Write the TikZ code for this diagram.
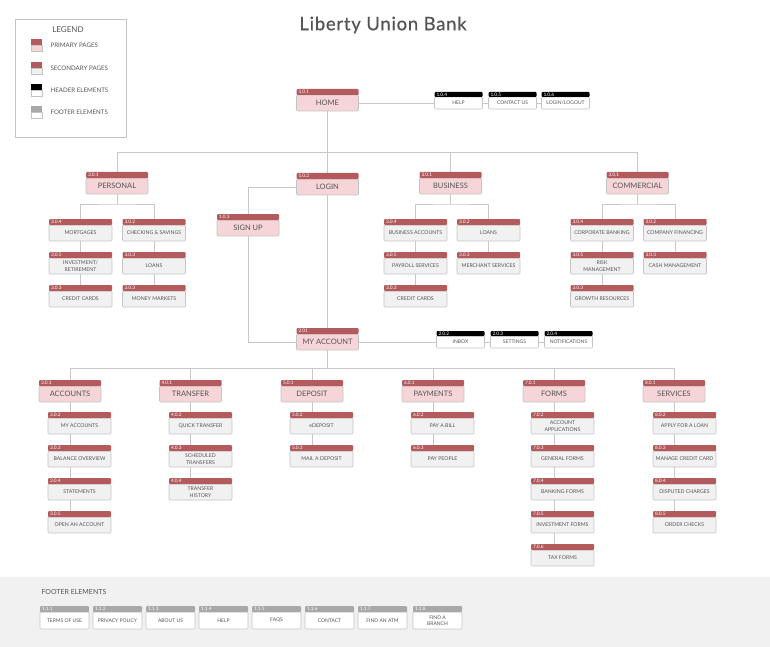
\documentclass[tikz,border=0pt]{standalone}
\usepackage{fontspec}
\setmainfont{Lato}
\newfontfamily\titlefont[LetterSpace=4,FakeBold=0.6]{Lato}
\usepackage{xcolor}
\usepackage{tikz}
\usetikzlibrary{positioning,backgrounds}

\definecolor{tagred}{HTML}{B35A5D}
\definecolor{primfill}{HTML}{F5D5D7}
\definecolor{secfill}{HTML}{F1F1F1}
\definecolor{footgray}{HTML}{A8A8A8}
\definecolor{boxline}{HTML}{C4C4C4}
\definecolor{wirecol}{HTML}{C8C8C8}
\definecolor{txt}{HTML}{555555}
\definecolor{footbg}{HTML}{F1F1F1}

\begin{document}
\begin{tikzpicture}[x=1pt, y=-1pt,
tagbar/.style={anchor=south, text=white, inner xsep=2pt, inner ysep=0pt, outer sep=0pt, align=left, rounded corners=1pt, font=\fontsize{4.8}{4.8}\selectfont},
prim/.style={draw=boxline, line width=0.6pt, fill=primfill, rounded corners=1pt, outer sep=0pt, minimum width=62pt, minimum height=16pt, inner sep=1pt, text=txt, font=\fontsize{7.5}{8}\selectfont, label={[tagbar, fill=tagred, text width=58pt, minimum height=6pt]north:#1}},
sec/.style={draw=boxline, line width=0.6pt, fill=secfill, rounded corners=1pt, outer sep=0pt, minimum width=63pt, minimum height=16pt, inner sep=1pt, align=center, text=txt, font=\fontsize{5.2}{6.5}\selectfont, label={[tagbar, fill=tagred, text width=59pt, minimum height=6pt]north:#1}},
head/.style={draw=boxline, line width=0.6pt, fill=white, rounded corners=1pt, outer sep=0pt, minimum width=48pt, minimum height=12pt, inner sep=1pt, text=txt, font=\fontsize{5}{6}\selectfont, label={[tagbar, fill=black, text width=44pt, minimum height=5pt]north:#1}},
foot/.style={draw=boxline, line width=0.6pt, fill=white, rounded corners=1pt, outer sep=0pt, minimum width=49pt, minimum height=17pt, inner sep=1pt, align=center, text=txt, font=\fontsize{5}{6}\selectfont, label={[tagbar, fill=footgray, text width=45pt, minimum height=6pt]north:#1}},
swatch/.style={draw=boxline, line width=0.5pt, minimum width=11pt, minimum height=6pt, inner sep=0pt, outer sep=0pt},
swtop/.style={anchor=south, minimum width=11pt, minimum height=6pt, inner sep=0pt, outer sep=0pt},
legtext/.style={text=txt, font=\fontsize{6.2}{7}\selectfont},
wire/.style={draw=wirecol, line width=0.8pt},
node distance=17pt
]
\useasboundingbox (0,0) rectangle (770,647);

% Title
\node[text=txt, font=\titlefont\fontsize{18.5}{20}\selectfont] (title) at (383,25) {Liberty Union Bank};

% Legend
\node[draw=boxline, line width=0.8pt, minimum width=111pt, minimum height=118pt] (legend) at (70.5,78) {};
\node[text=txt, font=\fontsize{8}{9}\selectfont] (legtitle) at (68,30) {LEGEND};
\node[swatch, fill=primfill, label={[swtop, fill=tagred]north:}] (swprim) at (36.5,48) {};
\node[swatch, fill=secfill, label={[swtop, fill=tagred]north:}] (swsec) at (36.5,71) {};
\node[swatch, fill=white, label={[swtop, fill=black]north:}] (swhead) at (36.5,93) {};
\node[swatch, fill=white, label={[swtop, fill=footgray]north:}] (swfoot) at (36.5,115) {};
\node[legtext, right=5pt of swprim.north east] (lprim) {PRIMARY PAGES};
\node[legtext, right=5pt of swsec.north east] (lsec) {SECONDARY PAGES};
\node[legtext, right=5pt of swhead.north east] (lhead) {HEADER ELEMENTS};
\node[legtext, right=5pt of swfoot.north east] (lfoot) {FOOTER ELEMENTS};

% Home and header elements
\node[prim=1.0.1] (home) at (327.5,103) {HOME};
\node[head=1.0.4, right=76pt of home] (help) {HELP};
\node[head=1.0.5, right=6pt of help] (contact) {CONTACT US};
\node[head=1.0.6, right=5pt of contact] (logout) {LOGIN/LOGOUT};

% First level
\node[prim=3.0.1] (personal) at (117,186) {PERSONAL};
\node[prim=1.0.2] (login) at (327.5,187) {LOGIN};
\node[prim=3.0.1] (business) at (450.5,186) {BUSINESS};
\node[prim=3.0.1] (commercial) at (637.5,186) {COMMERCIAL};
\node[prim=1.0.3] (signup) at (248,228) {SIGN UP};

% Personal pages
\node[sec=3.0.4] (mortgages) at (80.5,233) {MORTGAGES};
\node[sec=3.0.5, below=of mortgages] (invest) {INVESTMENT/\\RETIREMENT};
\node[sec=3.0.3, below=of invest] (pcredit) {CREDIT CARDS};
\node[sec=3.0.2] (checking) at (154,233) {CHECKING \& SAVINGS};
\node[sec=3.0.3, below=of checking] (ploans) {LOANS};
\node[sec=3.0.3, below=of ploans] (money) {MONEY MARKETS};

% Business pages
\node[sec=3.0.4] (busacc) at (415.5,233) {BUSINESS ACCOUNTS};
\node[sec=3.0.5, below=of busacc] (payroll) {PAYROLL SERVICES};
\node[sec=3.0.3, below=of payroll] (bcredit) {CREDIT CARDS};
\node[sec=3.0.2] (bloans) at (488.5,233) {LOANS};
\node[sec=3.0.3, below=of bloans] (merchant) {MERCHANT SERVICES};

% Commercial pages
\node[sec=3.0.4] (corporate) at (602,233) {CORPORATE BANKING};
\node[sec=3.0.5, below=of corporate] (risk) {RISK\\MANAGEMENT};
\node[sec=3.0.3, below=of risk] (growth) {GROWTH RESOURCES};
\node[sec=3.0.2] (financing) at (675,233) {COMPANY FINANCING};
\node[sec=3.0.3, below=of financing] (cash) {CASH MANAGEMENT};

% My account and header elements
\node[prim=2.01] (myaccount) at (327.5,342) {MY ACCOUNT};
\node[head=2.0.2, right=78pt of myaccount] (inbox) {INBOX};
\node[head=2.0.3, right=6pt of inbox] (settings) {SETTINGS};
\node[head=2.0.4, right=6pt of settings] (notifications) {NOTIFICATIONS};

% Account sections
\node[prim=3.0.1] (accounts) at (70,394) {ACCOUNTS};
\node[prim=4.0.1] (transfer) at (190.5,394) {TRANSFER};
\node[prim=5.0.1] (deposit) at (312,394) {DEPOSIT};
\node[prim=6.0.1] (payments) at (433,394) {PAYMENTS};
\node[prim=7.0.1] (forms) at (554,394) {FORMS};
\node[prim=8.0.1] (services) at (674,394) {SERVICES};

\node[sec=3.0.2] (myaccts) at (79.5,426) {MY ACCOUNTS};
\node[sec=3.0.3, below=of myaccts] (balance) {BALANCE OVERVIEW};
\node[sec=3.0.4, below=of balance] (statements) {STATEMENTS};
\node[sec=3.0.5, below=of statements] (openacct) {OPEN AN ACCOUNT};

\node[sec=4.0.2] (quick) at (200.5,426) {QUICK TRANSFER};
\node[sec=4.0.3, below=of quick] (scheduled) {SCHEDULED\\TRANSFERS};
\node[sec=4.0.4, below=of scheduled] (history) {TRANSFER\\HISTORY};

\node[sec=5.0.2] (edeposit) at (321.5,426) {eDEPOSIT};
\node[sec=5.0.3, below=of edeposit] (mail) {MAIL A DEPOSIT};

\node[sec=6.0.2] (paybill) at (442.5,426) {PAY A BILL};
\node[sec=6.0.3, below=of paybill] (paypeople) {PAY PEOPLE};

\node[sec=7.0.2] (acctapps) at (562.5,426) {ACCOUNT\\APPLICATIONS};
\node[sec=7.0.3, below=of acctapps] (general) {GENERAL FORMS};
\node[sec=7.0.4, below=of general] (banking) {BANKING FORMS};
\node[sec=7.0.5, below=of banking] (investforms) {INVESTMENT FORMS};
\node[sec=7.0.6, below=of investforms] (tax) {TAX FORMS};

\node[sec=8.0.2] (loanapply) at (684.5,426) {APPLY FOR A LOAN};
\node[sec=8.0.3, below=of loanapply] (creditcard) {MANAGE CREDIT CARD};
\node[sec=8.0.4, below=of creditcard] (disputed) {DISPUTED CHARGES};
\node[sec=8.0.5, below=of disputed] (checks) {ORDER CHECKS};

% Footer
\fill[footbg] (0,577) rectangle (770,647);
\node[text=txt, font=\fontsize{7}{8}\selectfont, anchor=west] (foottitle) at (38,592) {FOOTER ELEMENTS};
\node[foot=1.1.1] (terms) at (64.5,620.5) {TERMS OF USE};
\node[foot=1.1.2, right=4pt of terms] (privacy) {PRIVACY POLICY};
\node[foot=1.1.3, right=4pt of privacy] (about) {ABOUT US};
\node[foot=1.1.4, right=4pt of about] (fhelp) {HELP};
\node[foot=1.1.5, right=4pt of fhelp] (faqs) {FAQS};
\node[foot=1.1.6, right=4pt of faqs] (fcontact) {CONTACT};
\node[foot=1.1.7, right=4pt of fcontact] (atm) {FIND AN ATM};
\node[foot=1.1.8, right=6pt of atm] (branch) {FIND A\\BRANCH};

% Junction points
\coordinate (trunk) at (0,152);
\coordinate (hub) at (0,368);
\coordinate[below=10pt of personal] (psplit);
\coordinate[below=10pt of business] (bsplit);
\coordinate[below=10pt of commercial] (csplit);

% Connectors
\begin{scope}[on background layer]
\draw[wire] (home) -- (help) -- (contact) -- (logout);
\draw[wire] (home) |- (trunk -| personal) -- (personal);
\draw[wire] (home) |- (trunk -| business) -- (business);
\draw[wire] (home) |- (trunk -| commercial) -- (commercial);
\draw[wire] (home) -- (login);
\draw[wire] (login) -| (signup);
\draw[wire] (signup) |- (myaccount);
\draw[wire] (login) -- (myaccount);
\draw[wire] (myaccount) -- (inbox) -- (settings) -- (notifications);

\draw[wire] (personal) -- (psplit);
\draw[wire] (mortgages) |- (psplit) -| (checking);
\draw[wire] (mortgages) -- (pcredit);
\draw[wire] (checking) -- (money);
\draw[wire] (business) -- (bsplit);
\draw[wire] (busacc) |- (bsplit) -| (bloans);
\draw[wire] (busacc) -- (bcredit);
\draw[wire] (bloans) -- (merchant);
\draw[wire] (commercial) -- (csplit);
\draw[wire] (corporate) |- (csplit) -| (financing);
\draw[wire] (corporate) -- (growth);
\draw[wire] (financing) -- (cash);

\draw[wire] (myaccount) |- (hub -| accounts) -- (accounts);
\draw[wire] (myaccount) |- (hub -| transfer) -- (transfer);
\draw[wire] (myaccount) |- (hub -| deposit) -- (deposit);
\draw[wire] (myaccount) |- (hub -| payments) -- (payments);
\draw[wire] (myaccount) |- (hub -| forms) -- (forms);
\draw[wire] (myaccount) |- (hub -| services) -- (services);

\draw[wire] (accounts) -- (accounts |- openacct);
\draw[wire] (transfer) -- (transfer |- history);
\draw[wire] (deposit) -- (deposit |- mail);
\draw[wire] (payments) -- (payments |- paypeople);
\draw[wire] (forms) -- (forms |- tax);
\draw[wire] (services) -- (services |- checks);
\end{scope}

\end{tikzpicture}
\end{document}
